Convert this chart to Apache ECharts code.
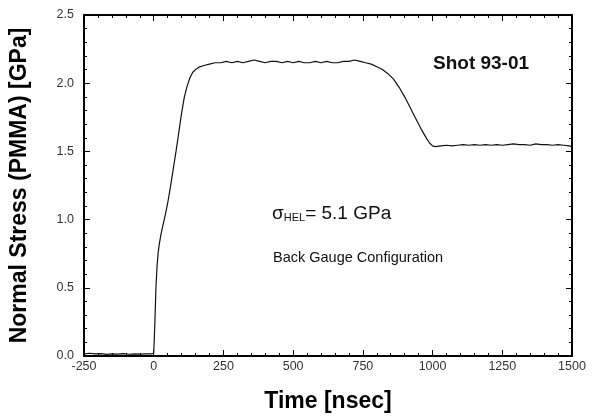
<!DOCTYPE html>
<html>
<head>
<meta charset="utf-8">
<script src="https://cdn.jsdelivr.net/npm/echarts@6/dist/echarts.min.js"></script>
<style>
html,body{margin:0;padding:0;background:#fff;}
#chart{width:594px;height:418px;}
</style>
</head>
<body>
<div id="chart"></div>
<script>
const timeNs = [-250,-230,-210,-190,-170,-150,-130,-110,-90,-70,-50,-30,-10,0,2,5,8,12,16,20,25,30,40,50,60,70,80,90,100,110,120,130,140,150,165,180,200,220,240,260,280,300,320,340,360,380,400,420,440,460,480,500,520,540,560,580,600,620,640,660,680,700,720,740,760,780,800,820,840,860,880,900,920,940,960,980,990,1000,1010,1030,1050,1070,1090,1110,1130,1150,1170,1190,1210,1230,1250,1270,1290,1310,1330,1350,1370,1390,1410,1430,1450,1470,1490,1500];
const stressGPa = [0.015,0.02,0.015,0.018,0.012,0.016,0.014,0.017,0.013,0.015,0.014,0.016,0.015,0.02,0.12,0.3,0.5,0.66,0.76,0.82,0.88,0.93,1.02,1.12,1.24,1.37,1.5,1.64,1.78,1.9,1.98,2.04,2.08,2.1,2.12,2.13,2.14,2.15,2.15,2.16,2.15,2.16,2.15,2.16,2.17,2.16,2.15,2.16,2.16,2.15,2.16,2.15,2.16,2.15,2.15,2.16,2.15,2.16,2.15,2.15,2.16,2.16,2.17,2.16,2.15,2.14,2.12,2.10,2.07,2.03,1.97,1.9,1.82,1.74,1.66,1.59,1.56,1.54,1.535,1.54,1.545,1.54,1.545,1.55,1.545,1.55,1.545,1.55,1.545,1.55,1.545,1.55,1.555,1.55,1.55,1.545,1.555,1.55,1.55,1.545,1.55,1.545,1.54,1.535];
const xTicks = {min:-250, max:1500, step:250};
const yTicks = {min:0, max:2.5, step:0.5};
const xTitle = 'Time [nsec]';
const yTitle = 'Normal Stress (PMMA) [GPa]';
const shotLabel = 'Shot 93-01';
const helLabel = ['σ','HEL','= 5.1 GPa'];
const configLabel = 'Back Gauge Configuration';

const FONT = '"Liberation Sans", Arial, sans-serif';
const chart = echarts.init(document.getElementById('chart'), null, {renderer:'canvas'});

const axisLine = {show:true, onZero:false, lineStyle:{color:'#000', width:2}};
const tickCommon = {show:true, inside:true, length:6, lineStyle:{color:'#000', width:1}};
const minorCommon = {show:true, splitNumber:5, length:3, lineStyle:{color:'#000', width:1}};

chart.setOption({
  animation:false,
  backgroundColor:'#fff',
  grid:{left:79, right:22, top:15, bottom:60, containLabel:false},
  xAxis:[{
    type:'value', min:xTicks.min, max:xTicks.max, interval:xTicks.step,
    position:'bottom',
    name:xTitle, nameLocation:'middle', nameGap:34,
    nameTextStyle:{fontFamily:FONT, fontSize:23, fontWeight:'bold', color:'#000'},
    axisLine:axisLine, axisTick:tickCommon, minorTick:minorCommon,
    splitLine:{show:false},
    axisLabel:{fontFamily:FONT, fontSize:12.5, color:'#333', margin:4,
      formatter:function(v){return String(v);}}
  },{
    type:'value', min:xTicks.min, max:xTicks.max, interval:xTicks.step,
    position:'top',
    axisLine:axisLine, axisTick:tickCommon, minorTick:minorCommon,
    splitLine:{show:false}, axisLabel:{show:false}
  }],
  yAxis:[{
    type:'value', min:yTicks.min, max:yTicks.max, interval:yTicks.step,
    position:'left',
    name:yTitle, nameLocation:'middle', nameGap:53, nameRotate:90,
    nameTextStyle:{fontFamily:FONT, fontSize:23, fontWeight:'bold', color:'#000'},
    axisLine:axisLine, axisTick:tickCommon, minorTick:minorCommon,
    splitLine:{show:false},
    axisLabel:{fontFamily:FONT, fontSize:12.5, color:'#333', margin:10,
      formatter:function(v){return v.toFixed(1);}}
  },{
    type:'value', min:yTicks.min, max:yTicks.max, interval:yTicks.step,
    position:'right',
    axisLine:axisLine, axisTick:tickCommon, minorTick:minorCommon,
    splitLine:{show:false}, axisLabel:{show:false}
  }],
  series:[{
    type:'line',
    xAxisIndex:0, yAxisIndex:0,
    data: timeNs.map(function(t,i){return [t, stressGPa[i]];}),
    showSymbol:false, symbol:'none',
    lineStyle:{color:'#111', width:1.2},
    z:3
  }],
  graphic:[
    {type:'text', left:433, top:54, style:{text:shotLabel, font:'bold 19px '+FONT, fill:'#111'}},
    {type:'text', left:272, top:204, style:{
      text:'{a|'+helLabel[0]+'}{b|'+helLabel[1]+'}{c|'+helLabel[2]+'}',
      rich:{
        a:{fontFamily:FONT, fontSize:19, fill:'#111', verticalAlign:'bottom'},
        b:{fontFamily:FONT, fontSize:11, fill:'#111', padding:[8,0,0,0]},
        c:{fontFamily:FONT, fontSize:19, fill:'#111'}
      }
    }},
    {type:'text', left:273, top:250, style:{text:configLabel, font:'14.5px '+FONT, fill:'#111'}}
  ]
});
</script>
</body>
</html>
